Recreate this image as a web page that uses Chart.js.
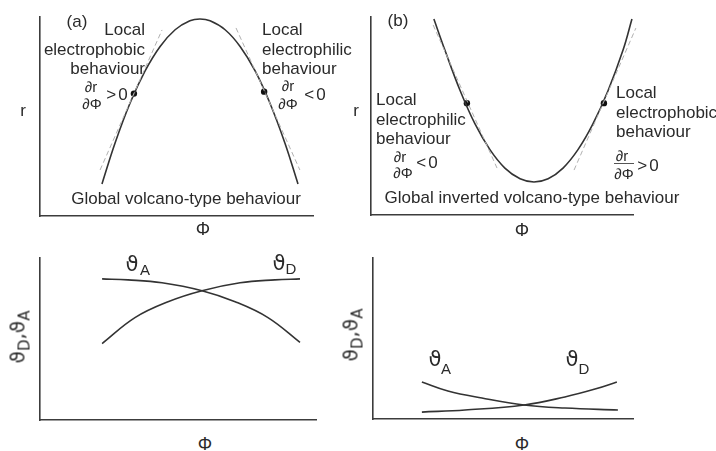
<!DOCTYPE html>
<html>
<head>
<meta charset="utf-8">
<script src="https://cdn.jsdelivr.net/npm/chart.js@4.4.1/dist/chart.umd.min.js"></script>
<style>
  body { margin: 0; background: #fff; }
  #page { position: relative; width: 716px; height: 451px; overflow: hidden;
          font-family: "Liberation Sans", Arial, sans-serif; color: #2a2a2a; }
  canvas { position: absolute; }
  .t { position: absolute; font-size: 17px; line-height: 1; white-space: nowrap;
       transform: translate(-50%, -50%); }
  .blk { position: absolute; font-size: 17px; line-height: 19.5px; white-space: nowrap; }
  .fr { font-size: 15px; }
  .cmp { font-size: 17px; letter-spacing: 2px; }
  .th { font-family: "DejaVu Sans", sans-serif; font-size: 21px; }
  .sub { font-size: 15px; }
  .bar { position: absolute; height: 1px; background: #555; }
  .rot { position: absolute; font-family: "DejaVu Sans", sans-serif; font-size: 20px; line-height: 1;
         white-space: nowrap; transform: translate(-50%, -50%) rotate(-90deg); }
  .rot sub { font-size: 15px; vertical-align: -5px; }
</style>
</head>
<body>
<div id="page">
  <canvas id="chartA" width="289" height="215" style="left:32px; top:9px"></canvas>
  <canvas id="chartB" width="278" height="214" style="left:363px; top:9px"></canvas>
  <canvas id="chartC" width="292" height="178" style="left:32px; top:250px"></canvas>
  <canvas id="chartD" width="276" height="177" style="left:365px; top:250px"></canvas>

  <!-- panel (a) texts -->
  <div class="t" style="left:77px; top:21px">(a)</div>
  <div class="t" style="left:23px; top:110px">r</div>
  <div class="blk" style="left:25px; top:20px; width:120px; text-align:right">Local<br>electrophobic<br>behaviour</div>
  <div class="blk" style="left:262px; top:20px">Local<br>electrophilic<br>behaviour</div>
  <div class="t fr" style="left:91px; top:86px">∂r</div>
  <div class="t fr" style="left:92px; top:103px">∂Φ</div>
  <div class="t cmp" style="left:118px; top:94px">&gt;0</div>
  <div class="t fr" style="left:288px; top:85px">∂r</div>
  <div class="t fr" style="left:288px; top:103px">∂Φ</div>
  <div class="t cmp" style="left:316px; top:94px">&lt;0</div>
  <div class="t" style="left:186px; top:198px">Global volcano-type behaviour</div>
  <div class="t" style="left:203px; top:229px; font-size:18px">Φ</div>

  <!-- panel (b) texts -->
  <div class="t" style="left:398px; top:20px">(b)</div>
  <div class="t" style="left:356px; top:110px">r</div>
  <div class="blk" style="left:376px; top:90px">Local<br>electrophilic<br>behaviour</div>
  <div class="blk" style="left:616px; top:83px">Local<br>electrophobic<br>behaviour</div>
  <div class="t fr" style="left:400px; top:156px">∂r</div>
  <div class="t fr" style="left:403px; top:172px">∂Φ</div>
  <div class="t cmp" style="left:428px; top:162px">&lt;0</div>
  <div class="t fr" style="left:622px; top:155px">∂r</div>
  <div class="bar" style="left:614px; top:163px; width:20px"></div>
  <div class="t fr" style="left:624px; top:173px">∂Φ</div>
  <div class="t cmp" style="left:649px; top:165px">&gt;0</div>
  <div class="t" style="left:532px; top:197px">Global inverted volcano-type behaviour</div>
  <div class="t" style="left:522px; top:230px; font-size:18px">Φ</div>

  <!-- panel (c) texts -->
  <div class="t th" style="left:132px; top:264px">ϑ</div>
  <div class="t sub" style="left:145px; top:269px">A</div>
  <div class="t th" style="left:279px; top:263px">ϑ</div>
  <div class="t sub" style="left:291px; top:268px">D</div>
  <div class="rot" style="left:20px; top:337px">ϑ<sub>D</sub>,ϑ<sub>A</sub></div>
  <div class="t" style="left:205px; top:444px; font-size:18px">Φ</div>

  <!-- panel (d) texts -->
  <div class="t th" style="left:435px; top:359px">ϑ</div>
  <div class="t sub" style="left:446px; top:368px">A</div>
  <div class="t th" style="left:572px; top:359px">ϑ</div>
  <div class="t sub" style="left:584px; top:368px">D</div>
  <div class="rot" style="left:353px; top:335px">ϑ<sub>D</sub>,ϑ<sub>A</sub></div>
  <div class="t" style="left:522px; top:444px; font-size:18px">Φ</div>
</div>

<script>
// (a) volcano curve r(Φ)
const phiA = [2.27, 2.75, 3.30, 3.85, 4.40, 4.95, 5.49, 5.86, 6.23, 6.78, 7.33, 7.88, 8.42, 8.97, 9.45];
const rA = [1.61, 3.67, 5.68, 7.29, 8.52, 9.36, 9.81, 9.90, 9.81, 9.36, 8.52, 7.29, 5.68, 3.67, 1.61];
const tanLeftPhiA = [2.20, 4.47];
const tanLeftRA = [2.31, 9.35];
const tanRightPhiA = [7.18, 9.52];
const tanRightRA = [9.45, 2.31];
const dotPhiA = [3.44, 8.21];
const dotRA = [6.15, 6.25];

// (b) inverted volcano curve
const phiB = [2.40, 2.82, 3.40, 3.97, 4.54, 5.11, 5.69, 6.22, 6.76, 7.33, 7.90, 8.47, 9.05, 9.62, 9.96];
const rB = [9.90, 8.33, 6.29, 4.60, 3.30, 2.37, 1.83, 1.67, 1.83, 2.37, 3.30, 4.60, 6.29, 8.33, 9.90];
const tanLeftPhiB = [2.37, 4.81];
const tanLeftRB = [9.60, 2.37];
const tanRightPhiB = [7.75, 10.11];
const tanRightRB = [2.27, 9.44];
const dotPhiB = [3.66, 8.89];
const dotRB = [5.65, 5.65];

// (c) coverages theta_A and theta_D vs Φ
const phiAC = [2.25, 3.19, 4.42, 5.87, 7.07, 8.26, 9.42];
const thetaAC = [8.71, 8.65, 8.47, 7.98, 7.30, 6.32, 4.79];
const phiDC = [2.25, 3.44, 4.64, 5.87, 7.25, 8.51, 9.42];
const thetaDC = [4.72, 6.32, 7.30, 7.98, 8.47, 8.65, 8.71];

// (d) coverages, low regime
const phiAD = [1.88, 2.88, 4.19, 5.81, 7.38, 9.42];
const thetaAD = [2.30, 1.74, 1.30, 0.87, 0.68, 0.56];
const phiDD = [1.88, 3.54, 5.81, 7.38, 8.54, 9.38];
const thetaDD = [0.43, 0.56, 0.87, 1.37, 1.86, 2.30];

const axisColor = '#3c3c3c';
const lineColor = '#333';

function pts(xs, ys) {
  return xs.map((x, i) => ({ x: x, y: ys[i] }));
}

function curve(xs, ys) {
  return {
    data: pts(xs, ys),
    borderColor: lineColor,
    borderWidth: 1.6,
    pointRadius: 0,
    tension: 0.4,
    fill: false
  };
}

function tangent(xs, ys) {
  return {
    data: pts(xs, ys),
    borderColor: '#b0b0b0',
    borderWidth: 1,
    borderDash: [5, 3],
    pointRadius: 0,
    clip: false,
    fill: false
  };
}

function dots(xs, ys) {
  return {
    data: pts(xs, ys),
    showLine: false,
    pointRadius: 3.2,
    pointBackgroundColor: '#111',
    pointBorderWidth: 0
  };
}

function axis() {
  return {
    type: 'linear',
    min: 0,
    max: 10,
    ticks: { display: false },
    grid: { display: false, drawTicks: false },
    border: { display: true, color: axisColor, width: 1.6 }
  };
}

function makeChart(id, datasets) {
  const ctx = document.getElementById(id).getContext('2d');
  return new Chart(ctx, {
    type: 'line',
    data: { datasets: datasets },
    options: {
      responsive: false,
      animation: false,
      layout: { padding: 8 },
      plugins: { legend: { display: false }, tooltip: { enabled: false } },
      scales: { x: axis(), y: axis() }
    }
  });
}

makeChart('chartA', [
  tangent(tanLeftPhiA, tanLeftRA),
  tangent(tanRightPhiA, tanRightRA),
  curve(phiA, rA),
  dots(dotPhiA, dotRA)
]);

makeChart('chartB', [
  tangent(tanLeftPhiB, tanLeftRB),
  tangent(tanRightPhiB, tanRightRB),
  curve(phiB, rB),
  dots(dotPhiB, dotRB)
]);

makeChart('chartC', [
  curve(phiAC, thetaAC),
  curve(phiDC, thetaDC)
]);

makeChart('chartD', [
  curve(phiAD, thetaAD),
  curve(phiDD, thetaDD)
]);
</script>
</body>
</html>
